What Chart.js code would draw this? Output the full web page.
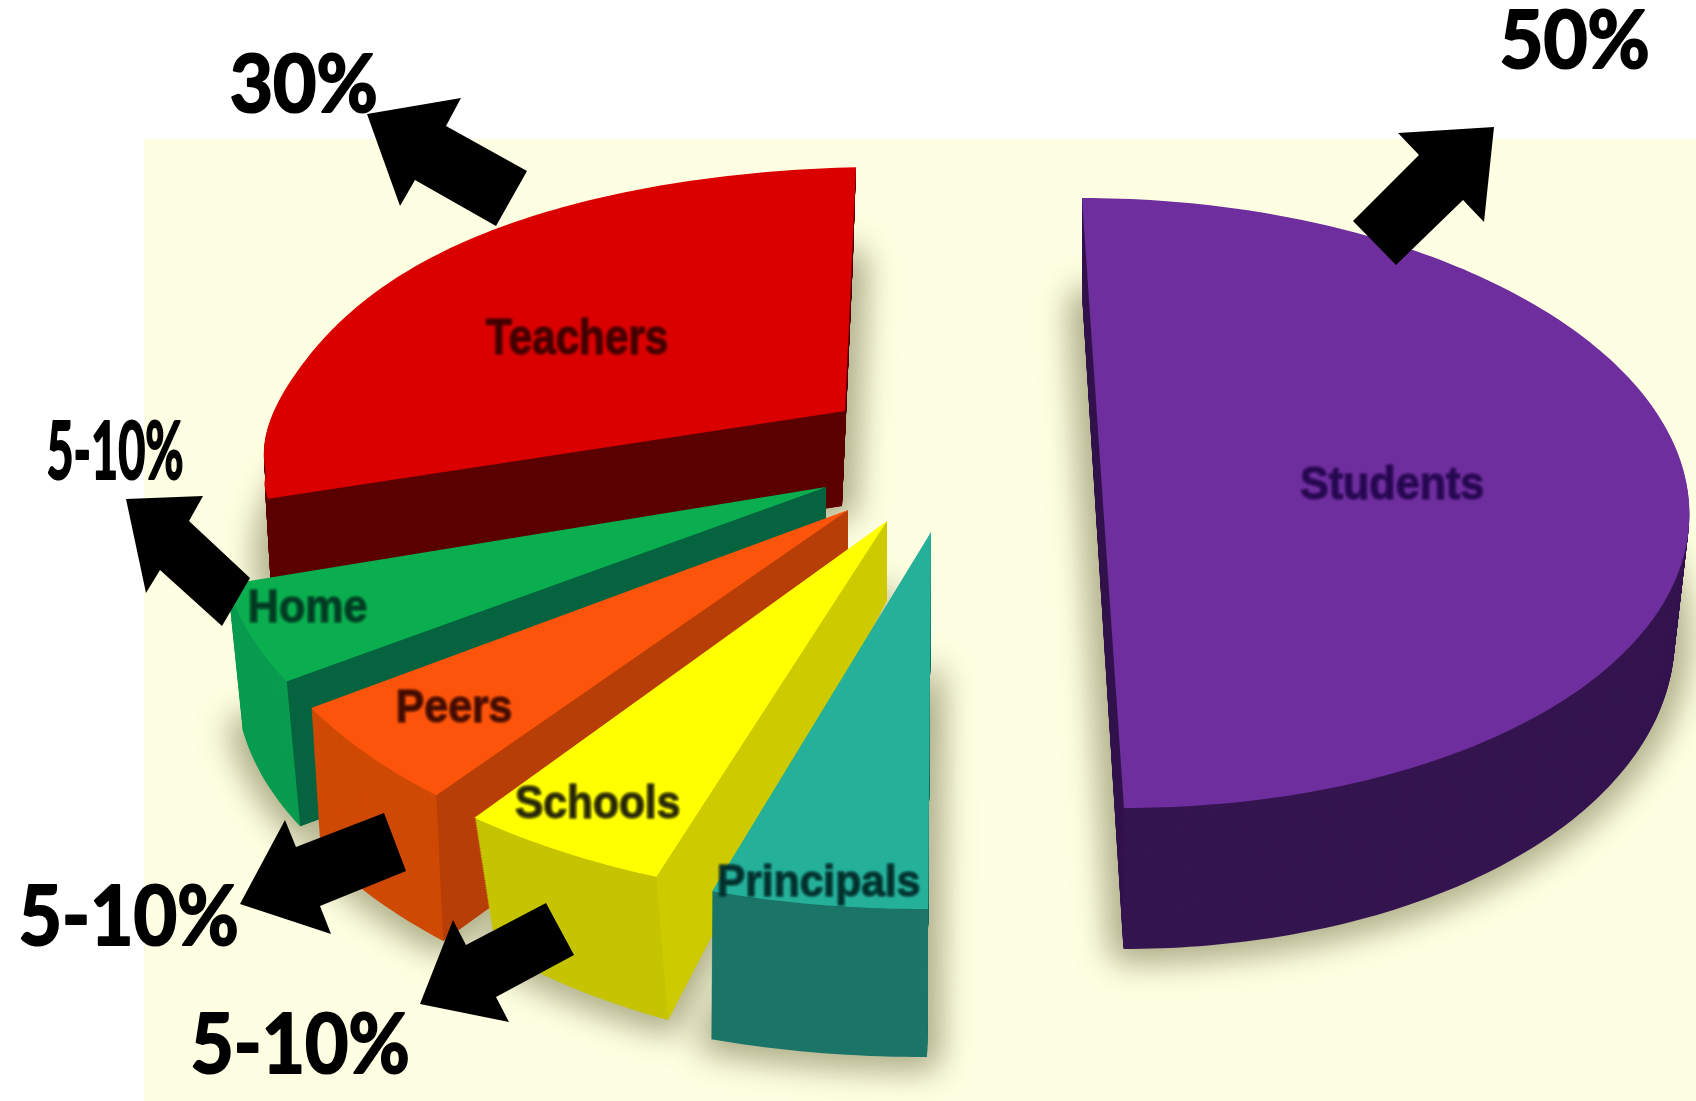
<!DOCTYPE html>
<html>
<head>
<meta charset="utf-8">
<title>Who holds the keys</title>
<style>
  html, body { margin: 0; padding: 0; background: #fff; }
  canvas { display: block; }
</style>
<script src="https://cdn.jsdelivr.net/npm/chart.js@4"></script>
</head>
<body>
<canvas id="pie-chart" width="1696" height="1101"></canvas>
<script>
// slices, clockwise from 12 o'clock
const sliceLabels = ["Students", "Principals", "Schools", "Peers", "Home", "Teachers"];
const sliceValues = [50, 5, 5, 5, 5, 30];
const topColors = ["#6F2E9E", "#25B09A", "#FFFF00", "#FC540A", "#0BAE4F", "#DA0000"];
const rimColors = ["#351550", "#1B7568", "#C6C400", "#CF4A05", "#0A9C50", "#5C0000"];
const cutColors = ["#2E1152", "#1B7568", "#CDCB00", "#B83E08", "#05643F", "#5A0000"];
const textColors = ["#260850", "#032F2C", "#26260A", "#400C03", "#033A23", "#400000"];
const percentLabels = ["50%", "30%", "5-10%", "5-10%", "5-10%"];

// back to front
const drawOrder = ["Students", "Teachers", "Home", "Peers", "Schools", "Principals"];

// how each slice sits on the page: apex, the two axes of its tilted circle,
// then how far the underside drops and how much it narrows/stretches
const sliceFrames = {
  Students:   { x: 1103, y: 503, ax: 586, ay: 0,   bx: 21,  by: 305, dx: 0, dy: 123, sx: 0.975, sy: 1.059 },
  // the back slice is pulled in a little around its far left shoulder
  Teachers:   { x: 845,  y: 411, ax: 603, ay: -13, bx: -11, by: 244, dx: -3, dy: 95, sx: 0.985, sy: 1,
                dent: { at: 287, depth: 0.065, before: 28, after: 34, from: 252 } },
  Home:       { x: 826,  y: 487, ax: 599, ay: 9,   bx: -93, by: 343, dx: 0, dy: 145, sx: 0.975, sy: 1 },
  Peers:      { x: 848,  y: 510, ax: 622, ay: 24,  bx: -57, by: 370, dx: 0, dy: 140, sx: 0.983, sy: 1.02 },
  Schools:    { x: 887,  y: 521, ax: 666, ay: 18,  bx: -26, by: 380, dx: 0, dy: 79,  sx: 0.95,  sy: 1.18 },
  Principals: { x: 931,  y: 532, ax: 699, ay: -2,  bx: -3,  by: 377, dx: -1, dy: 148, sx: 1,    sy: 1 },
};
const cutFaces = ["Teachers", "Home", "Peers", "Schools"];

// left, right, top, bottom of each caption
const sliceBoxes = {
  Students: [1301, 1483, 464, 499],
  Teachers: [486, 667, 316, 354],
  Home: [250, 366, 589, 622],
  Peers: [398, 511, 689, 722],
  Schools: [516, 679, 784, 818],
  Principals: [719, 919, 862, 905],
};
const percentBoxes = [
  [1502, 1647, 11, 68],
  [231, 375, 54, 112],
  [48, 182, 422, 479],
  [21, 236, 886, 945],
  [193, 407, 1014, 1073],
];
const arrows = [
  [[1494, 127], [1398, 133], [1419, 155], [1353, 221], [1396, 265], [1463, 200], [1484, 222]],
  [[367, 114], [461, 98], [446, 126], [527, 171], [496, 226], [415, 180], [400, 206]],
  [[126, 499], [203, 496], [189, 521], [250, 578], [222, 626], [160, 570], [146, 593]],
  [[240, 904], [285, 820], [296, 847], [384, 813], [406, 871], [320, 906], [331, 934]],
  [[420, 1004], [453, 920], [466, 945], [546, 903], [574, 955], [496, 997], [509, 1022]],
];

const panel = { x: 144, y: 139, color: "#FEFEE2" };

function dentFactor(dent, angle) {
  const deg = (angle * 180) / Math.PI + 90;
  const spread = deg < dent.at ? dent.before : dent.after;
  const ramp = Math.max(0, Math.min(1, (deg - dent.from) / 6));
  const off = (deg - dent.at) / spread;
  return 1 - dent.depth * ramp * Math.exp(-off * off);
}

// page position of a point on the arc at the given angle;
// r=0 is the apex, r=1 the rim, t=0 the top face, t=1 the underside
function project(f, angle, r, t) {
  const sx = 1 + (f.sx - 1) * t;
  const sy = 1 + (f.sy - 1) * t;
  const radius = f.dent ? r * dentFactor(f.dent, angle) : r;
  const u = Math.cos(angle) * radius;
  const v = Math.sin(angle) * radius;
  return [
    f.x + f.dx * t + (f.ax * u + f.bx * v) * sx,
    f.y + f.dy * t + (f.ay * u + f.by * v) * sy,
  ];
}

// wedge outline built from the angles the library worked out for this value
function wedgePath(ctx, arc, f, t) {
  const steps = Math.ceil((arc.endAngle - arc.startAngle) * 60);
  const apex = project(f, 0, 0, t);
  ctx.beginPath();
  ctx.moveTo(apex[0], apex[1]);
  for (let s = 0; s <= steps; s++) {
    const a = arc.startAngle + (arc.endAngle - arc.startAngle) * (s / steps);
    const p = project(f, a, 1, t);
    ctx.lineTo(p[0], p[1]);
  }
  ctx.closePath();
}

// squeezes text into a box so wide and narrow captions share one font
function fitText(ctx, text, box, font, color, weight) {
  ctx.save();
  ctx.font = font;
  ctx.fillStyle = color;
  ctx.strokeStyle = color;
  ctx.lineJoin = "round";
  ctx.textAlign = "left";
  ctx.textBaseline = "alphabetic";
  const m = ctx.measureText(text);
  const w = m.actualBoundingBoxLeft + m.actualBoundingBoxRight;
  const h = m.actualBoundingBoxAscent + m.actualBoundingBoxDescent;
  ctx.translate(box[0], box[2]);
  ctx.scale((box[1] - box[0]) / w, (box[3] - box[2]) / h);
  ctx.fillText(text, m.actualBoundingBoxLeft, m.actualBoundingBoxAscent);
  ctx.lineWidth = weight;
  ctx.strokeText(text, m.actualBoundingBoxLeft, m.actualBoundingBoxAscent);
  ctx.restore();
}

const tiltedPie = {
  id: "tiltedPie",
  beforeDraw(chart) {
    const ctx = chart.ctx;
    ctx.save();
    ctx.fillStyle = "#fff";
    ctx.fillRect(0, 0, chart.width, chart.height);
    ctx.fillStyle = panel.color;
    ctx.fillRect(panel.x, panel.y, chart.width - panel.x, chart.height - panel.y);
    ctx.restore();
  },
  beforeDatasetsDraw(chart) {
    const ctx = chart.ctx;
    const arcs = chart.getDatasetMeta(0).data;

    // soft ground shadow
    ctx.save();
    ctx.filter = "blur(16px)";
    ctx.fillStyle = "rgba(95, 95, 50, 0.4)";
    ctx.strokeStyle = "rgba(95, 95, 50, 0.4)";
    ctx.lineWidth = 30;
    ctx.lineJoin = "round";
    drawOrder.forEach((name) => {
      wedgePath(ctx, arcs[sliceLabels.indexOf(name)], sliceFrames[name], 1);
      ctx.fill();
      ctx.stroke();
    });
    ctx.restore();

    ctx.save();
    ctx.filter = "blur(0.7px)";
    drawOrder.forEach((name) => {
      const i = sliceLabels.indexOf(name);
      const arc = arcs[i];
      const f = sliceFrames[name];

      // rim: stack the wedge from the underside up
      ctx.fillStyle = rimColors[i];
      const steps = Math.ceil(Math.abs(f.dy));
      for (let s = steps; s > 0; s--) {
        wedgePath(ctx, arc, f, s / steps);
        ctx.fill();
      }

      // the straight cut side facing the viewer
      if (cutFaces.includes(name)) {
        const a = project(f, arc.startAngle, 0, 0);
        const b = project(f, arc.startAngle, 1, 0);
        const c = project(f, arc.startAngle, 1, 1);
        const d = project(f, arc.startAngle, 0, 1);
        ctx.fillStyle = cutColors[i];
        ctx.beginPath();
        ctx.moveTo(a[0], a[1]);
        ctx.lineTo(b[0], b[1]);
        ctx.lineTo(c[0], c[1]);
        ctx.lineTo(d[0], d[1]);
        ctx.closePath();
        ctx.fill();
      }

      ctx.fillStyle = arc.options.backgroundColor;
      wedgePath(ctx, arc, f, 0);
      ctx.fill();
    });

    // captions sit on the slices, just as soft
    ctx.filter = "blur(0.8px)";
    sliceLabels.forEach((name, i) => {
      fitText(ctx, name, sliceBoxes[name], "bold 40px 'Liberation Sans'", textColors[i], 0.8);
    });
    ctx.restore();

    // arrows and percentages are crisp
    ctx.save();
    ctx.fillStyle = "#000";
    arrows.forEach((pts) => {
      ctx.beginPath();
      pts.forEach((p, j) => (j ? ctx.lineTo(p[0], p[1]) : ctx.moveTo(p[0], p[1])));
      ctx.closePath();
      ctx.fill();
    });
    percentLabels.forEach((text, i) => {
      fitText(ctx, text, percentBoxes[i], "bold 60px Lato", "#000", 1.6);
    });
    ctx.restore();
    return false;
  },
};

const pieChart = new Chart(document.getElementById("pie-chart"), {
  type: "pie",
  data: {
    labels: sliceLabels,
    datasets: [{ data: sliceValues, backgroundColor: topColors, borderWidth: 0 }],
  },
  options: {
    responsive: false,
    animation: false,
    plugins: { legend: { display: false }, tooltip: { enabled: false } },
  },
  plugins: [tiltedPie],
});
</script>
</body>
</html>
